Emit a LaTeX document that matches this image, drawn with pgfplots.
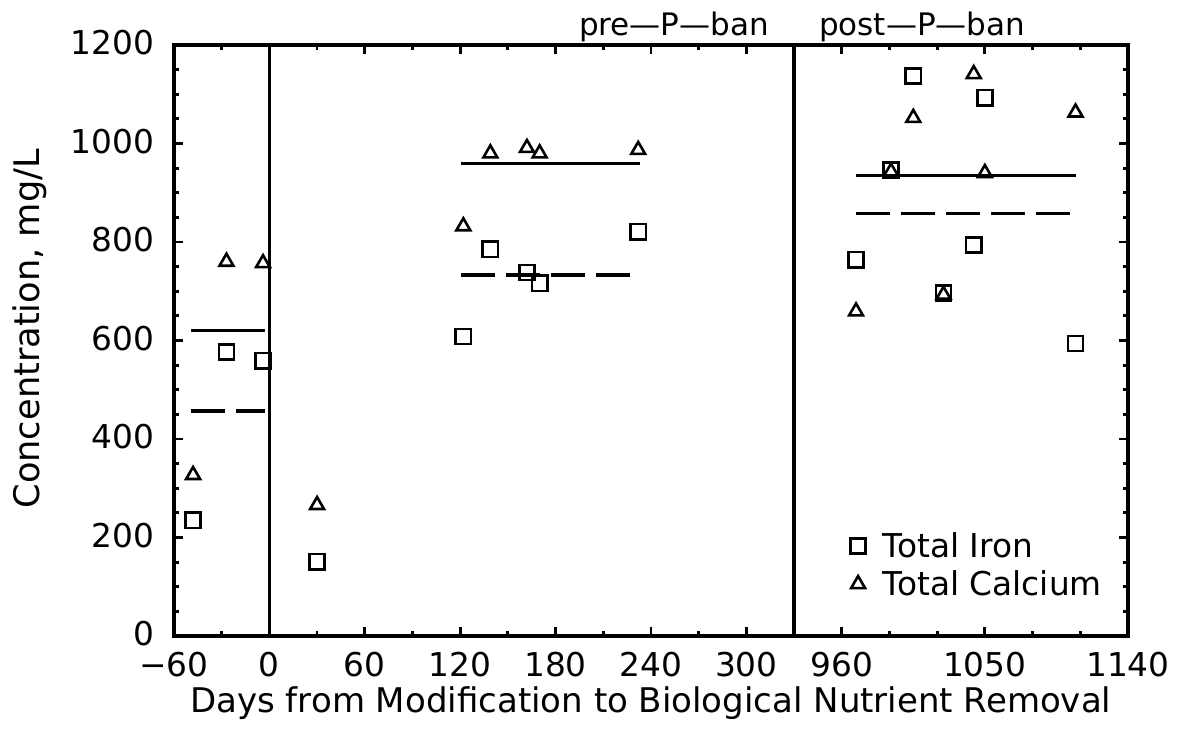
\documentclass[border=0pt]{standalone}
\usepackage{fontspec}
\setmainfont{DejaVu Sans}
\usepackage{pgfplots}
\pgfplotsset{compat=1.18}
\pgfplotsset{
  common/.style={
    scale only axis, height=295.5pt, ymin=0, ymax=1200,
    axis line style={line width=1.6pt},
    tick align=inside,
    major tick length=4.5pt, minor tick length=2.5pt,
    tick style={line width=1.4pt, black},
    xtick pos=both,
    ytick={0,200,...,1200},
    minor ytick={50,100,...,1150},
    scaled ticks=false,
    /pgf/number format/1000 sep={},
    /pgf/number format/assume math mode=true,
    tick label style={font=\fontsize{16.4}{19.7}\selectfont},
    yticklabel style={xshift=-6.5pt, yshift=1pt},
    xticklabel style={yshift=-4.5pt},
    fe/.style={only marks, mark=square, mark size=3.8pt, line width=1.3pt, black},
    ca/.style={only marks, mark=triangle, mark size=4pt, line width=1.3pt, black},
    meanca/.style={forget plot, no marks, line width=1.6pt, black},
    meanfe/.style={forget plot, no marks, line width=1.6pt, black, dash pattern=on 17pt off 5.5pt},
  }
}
\begin{document}
\begin{tikzpicture}[font=\fontsize{16.4}{19.7}\selectfont]
\path[use as bounding box] (-87pt,-47pt) rectangle (507pt,318pt);
\begin{axis}[common, at={(0pt,0pt)}, anchor=south west, width=310pt,
  xmin=-60, xmax=330,
  xtick={-60,0,60,120,180,240,300},
  xticklabels={−60,0,60,120,180,240,300},
  minor xtick={-30,30,90,150,210,270},
  ytick pos=left,
  ylabel={Concentration, mg/L},
  ylabel style={at={(axis description cs:-0.232,0.52)}, anchor=center, rotate=0, font=\fontsize{17.6}{21}\selectfont},
  xlabel={Days from Modification to Biological Nutrient Removal},
  xlabel style={at={(axis description cs:0.769,-0.13)}, anchor=base, font=\fontsize{17}{20}\selectfont},
]
\addplot[forget plot, no marks, line width=1.3pt, black] coordinates {(0,0) (0,1200)};
\addplot[fe] coordinates {(-48,235) (-27,577) (-4,559) (30,151) (122,608) (139,785) (162,738) (170,716) (232,821)};
\addplot[ca] coordinates {(-48,327) (-27,760) (-4,757) (30,266) (122,832) (139,980) (162,991) (170,980) (232,987)};
\addplot[meanca] coordinates {(-49,621) (-3,621)};
\addplot[meanfe] coordinates {(-49,457) (-3,457)};
\addplot[meanca] coordinates {(120.6,960) (233,960)};
\addplot[meanfe] coordinates {(120.6,733) (229,733)};
\end{axis}
\begin{axis}[common, at={(310pt,0pt)}, anchor=south west, width=167pt,
  xmin=930, xmax=1140,
  xtick={960,1050,1140},
  minor xtick={990,1020,1080,1110},
  ytick pos=right, yticklabels={},
  legend style={draw=none, fill=none, at={(0.15,0.12)}, anchor=west,
    font=\fontsize{16.4}{19.7}\selectfont, row sep=1pt},
  legend cell align=left,
]
\addplot[fe] coordinates {(969,764) (991,946) (1005,1137) (1024,696) (1043,794) (1050,1093) (1107,594)};
\addplot[ca] coordinates {(969,659) (991,943) (1005,1052) (1024,693) (1043,1141) (1050,940) (1107,1063)};
\addplot[meanca] coordinates {(969,935) (1107,935)};
\addplot[meanfe] coordinates {(969,858) (1105,858)};
\legend{\hspace*{6.5pt}Total Iron, \hspace*{6.5pt}Total Calcium}
\end{axis}
\node[anchor=base east, font=\fontsize{15.5}{18}\selectfont] at (301pt,300.5pt) {pre—P—ban};
\node[anchor=base west, font=\fontsize{15.5}{18}\selectfont] at (319pt,300.5pt) {post—P—ban};
\end{tikzpicture}
\end{document}
